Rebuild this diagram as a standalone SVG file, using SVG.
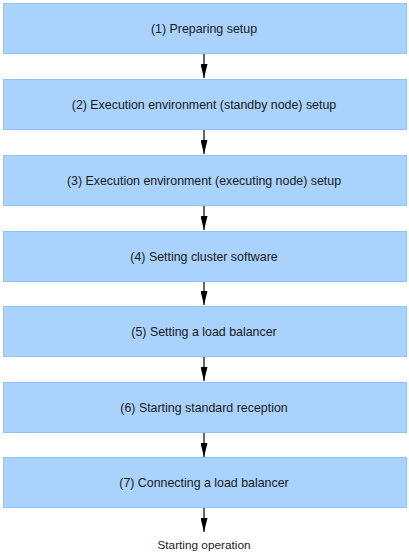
<svg xmlns="http://www.w3.org/2000/svg" width="409" height="555" viewBox="0 0 409 555">
<defs>
<style>
.box{fill:#a9d3fc;stroke:#8ec3f3;stroke-width:1}
.t{font-family:"Liberation Sans",Arial,sans-serif;font-size:12.4px;fill:#1a1a1a;text-anchor:middle}
.e{font-size:11.8px}
.c{stroke:#000;stroke-width:1.2;fill:none}
</style>
<marker id="ah" viewBox="0 0 14 7" refX="14" refY="3.5" markerWidth="14" markerHeight="7" markerUnits="userSpaceOnUse" orient="auto">
<path d="M0,0 L14,3.5 L0,7 z" fill="#000"/>
</marker>
</defs>
<g id="connectors">
<line class="c" x1="204" y1="54" x2="204" y2="78" marker-end="url(#ah)"/>
<line class="c" x1="204" y1="130" x2="204" y2="154" marker-end="url(#ah)"/>
<line class="c" x1="204" y1="206" x2="204" y2="230" marker-end="url(#ah)"/>
<line class="c" x1="204" y1="282" x2="204" y2="305" marker-end="url(#ah)"/>
<line class="c" x1="204" y1="357" x2="204" y2="381" marker-end="url(#ah)"/>
<line class="c" x1="204" y1="433" x2="204" y2="457" marker-end="url(#ah)"/>
<line class="c" x1="204" y1="508" x2="204" y2="532" marker-end="url(#ah)"/>
</g>
<g id="n1"><rect class="box" x="3.5" y="3.5" width="403" height="50"/><text class="t" x="204" y="33">(1) Preparing setup</text></g>
<g id="n2"><rect class="box" x="3.5" y="79.5" width="403" height="50"/><text class="t" x="204" y="109">(2) Execution environment (standby node) setup</text></g>
<g id="n3"><rect class="box" x="3.5" y="155.5" width="403" height="50"/><text class="t" x="204" y="185">(3) Execution environment (executing node) setup</text></g>
<g id="n4"><rect class="box" x="3.5" y="231.5" width="403" height="50"/><text class="t" x="204" y="261">(4) Setting cluster software</text></g>
<g id="n5"><rect class="box" x="3.5" y="306.5" width="403" height="50"/><text class="t" x="204" y="336">(5) Setting a load balancer</text></g>
<g id="n6"><rect class="box" x="3.5" y="382.5" width="403" height="50"/><text class="t" x="204" y="412">(6) Starting standard reception</text></g>
<g id="n7"><rect class="box" x="3.5" y="457.5" width="403" height="50"/><text class="t" x="204" y="487">(7) Connecting a load balancer</text></g>
<g id="n8"><text class="t e" x="204" y="549">Starting operation</text></g>
</svg>
